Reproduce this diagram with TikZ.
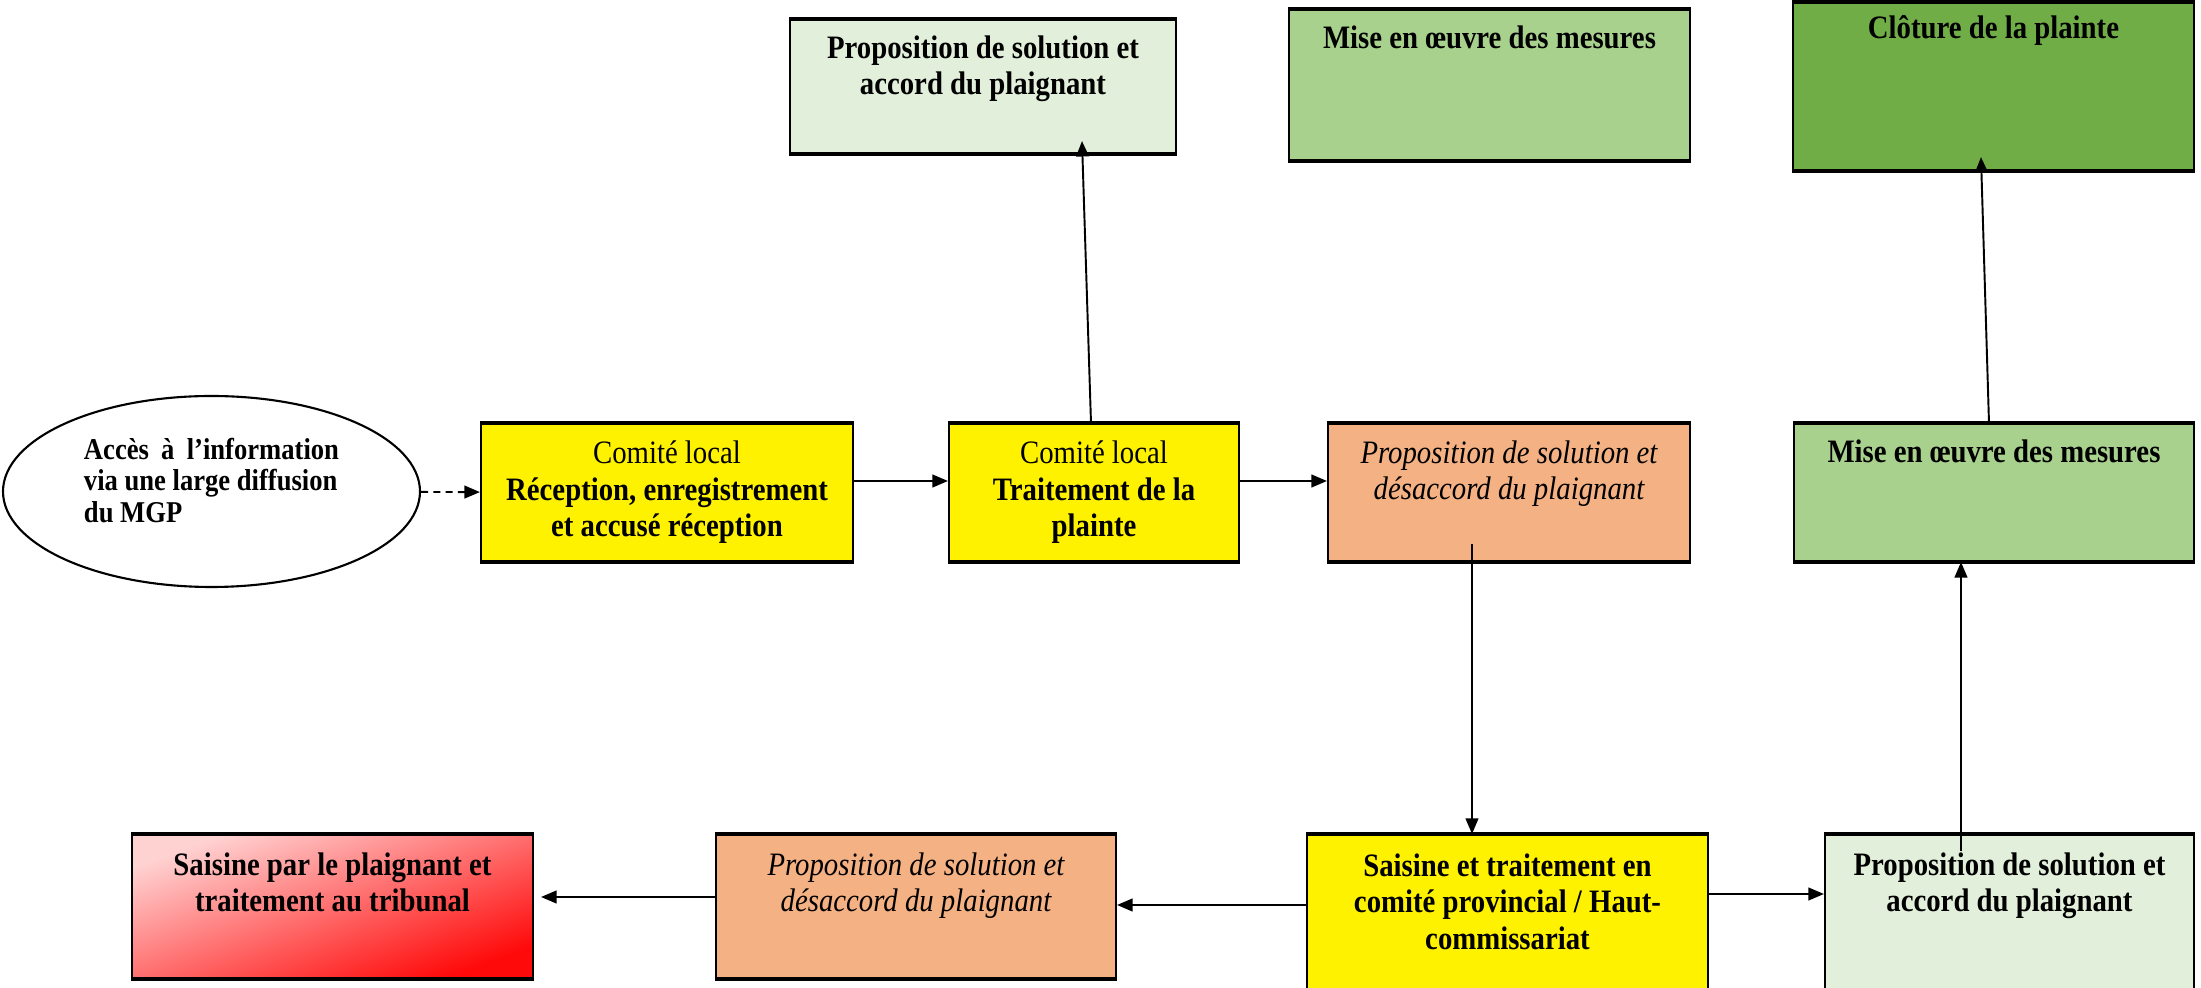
\documentclass[tikz,border=0pt]{standalone}
\usepackage{fontspec}
\setmainfont[FakeStretch=0.88]{Liberation Serif}
\usetikzlibrary{arrows.meta,positioning,shapes.geometric}
\definecolor{pale}{HTML}{E2EFDA}
\definecolor{leaf}{HTML}{A9D18E}
\definecolor{moss}{HTML}{70AD47}
\definecolor{salmon}{HTML}{F4B183}
\definecolor{blush}{HTML}{FFD2D2}
\definecolor{rosy}{HTML}{FF8C8C}
\definecolor{scarlet}{HTML}{FF0A0A}
\begin{document}
\begin{tikzpicture}[
		font=\fontsize{9.3}{10.4}\selectfont,
		>={Triangle[length=4.4pt,width=3.6pt]}
	]
	\tikzset{
		mybox/.style = {rectangle, draw=black, line width=0.6pt, align=center,
			append after command={
				(\tikzlastnode.north west) edge[line width=1.1pt] (\tikzlastnode.north east)
				(\tikzlastnode.south west) edge[line width=1.1pt] (\tikzlastnode.south east)}},
		mytxt/.style = {inner sep=0pt, align=center},
		myarr/.style = {->, line width=0.55pt},
	}
	\useasboundingbox (0,0) rectangle (22.01,-9.88);
	\clip (0,0) rectangle (22.01,-9.88);
	% middle row
	\node[ellipse, draw=black, line width=0.6pt, minimum width=4.17cm, minimum height=1.91cm,
		align=left, text depth=6.5pt, font=\bfseries\fontsize{8.6}{9}\selectfont] at (2.115,-4.915) (acces)
		{\makebox[2.55cm][s]{Accès à l’information}\\via une large diffusion\\du MGP};
	\node[mybox, fill=yellow, minimum width=3.72cm, minimum height=1.37cm] at (6.67,-4.925) (recep)
		{Comité local\\\textbf{Réception, enregistrement}\\\textbf{et accusé réception}};
	\node[mybox, fill=yellow, minimum width=2.90cm, minimum height=1.37cm] at (10.94,-4.925) (trait)
		{Comité local\\\textbf{Traitement de la}\\\textbf{plainte}};
	\node[mybox, fill=salmon, minimum width=3.62cm, minimum height=1.37cm] at (15.09,-4.925) (desac1) {};
	\node[mybox, fill=leaf, minimum width=4.00cm, minimum height=1.37cm] at (19.94,-4.925) (mise2) {};
	% top row
	\node[mybox, fill=pale, minimum width=3.86cm, minimum height=1.33cm] at (9.83,-0.865) (accord1) {};
	\node[mybox, fill=leaf, minimum width=4.01cm, minimum height=1.50cm] at (14.895,-0.85) (mise1) {};
	\node[mybox, fill=moss, minimum width=4.01cm, minimum height=1.67cm] at (19.935,-0.865) (cloture) {};
	% bottom row
	\node[mybox, top color=blush, middle color=rosy, bottom color=scarlet, shading angle=20,
		minimum width=4.01cm, minimum height=1.43cm] at (3.325,-9.065) (tribunal) {};
	\node[mybox, fill=salmon, minimum width=4.00cm, minimum height=1.43cm] at (9.16,-9.065) (desac2) {};
	\node[mybox, fill=yellow, minimum width=4.01cm, minimum height=1.60cm] at (15.075,-9.15) (saisine) {};
	\node[mybox, fill=pale, minimum width=3.69cm, minimum height=1.60cm] at (20.095,-9.15) (accord2) {};
	%
	\node[mytxt, below=0.17 of desac1.north] (desac1-t) {\itshape Proposition de solution et\\\itshape désaccord du plaignant};
	\node[mytxt, below=0.16 of mise2.north] (mise2-t) {\bfseries Mise en œuvre des mesures};
	\node[mytxt, below=0.16 of accord1.north] (accord1-t) {\bfseries Proposition de solution et\\\bfseries accord du plaignant};
	\node[mytxt, below=0.16 of mise1.north] (mise1-t) {\bfseries Mise en œuvre des mesures};
	\node[mytxt, below=0.13 of cloture.north] (cloture-t) {\bfseries Clôture de la plainte};
	\node[mytxt, below=0.18 of tribunal.north] (tribunal-t) {\bfseries Saisine par le plaignant et\\\bfseries traitement au tribunal};
	\node[mytxt, below=0.18 of desac2.north] (desac2-t) {\itshape Proposition de solution et\\\itshape désaccord du plaignant};
	\node[mytxt, below=0.19 of saisine.north] (saisine-t) {\bfseries Saisine et traitement en\\\bfseries comité provincial / Haut-\\\bfseries commissariat};
	\node[mytxt, below=0.18 of accord2.north] (accord2-t) {\bfseries Proposition de solution et\\\bfseries accord du plaignant};
	%
	\draw[myarr, dash pattern=on 2pt off 1.5pt] (acces) -- (recep);
	\draw[myarr] ([yshift=0.115cm]recep.east) -- ([yshift=0.115cm]trait.west);
	\draw[myarr] ([yshift=0.115cm]trait.east) -- ([yshift=0.115cm]desac1.west);
	\draw[myarr] ([xshift=-0.03cm]trait.north) -- ([xshift=0.99cm,yshift=0.13cm]accord1.south);
	%
	\draw[myarr] ([xshift=-0.37cm,yshift=0.18cm]desac1.south) -- ([xshift=-0.355cm]saisine.north);
	\draw[myarr] ([yshift=0.10cm]saisine.west) -- ([yshift=0.015cm]desac2.east);
	\draw[myarr] ([yshift=0.095cm]desac2.west) -- ([xshift=0.07cm,yshift=0.095cm]tribunal.east);
	\draw[myarr] ([yshift=0.21cm]saisine.east) -- ([yshift=0.21cm]accord2.west);
	%
	\draw[myarr] ([xshift=-0.485cm,yshift=-0.17cm]accord2.north) -- ([xshift=-0.33cm]mise2.south);
	\draw[myarr] ([xshift=-0.05cm]mise2.north) -- ([xshift=-0.125cm,yshift=0.14cm]cloture.south);
\end{tikzpicture}
\end{document}
